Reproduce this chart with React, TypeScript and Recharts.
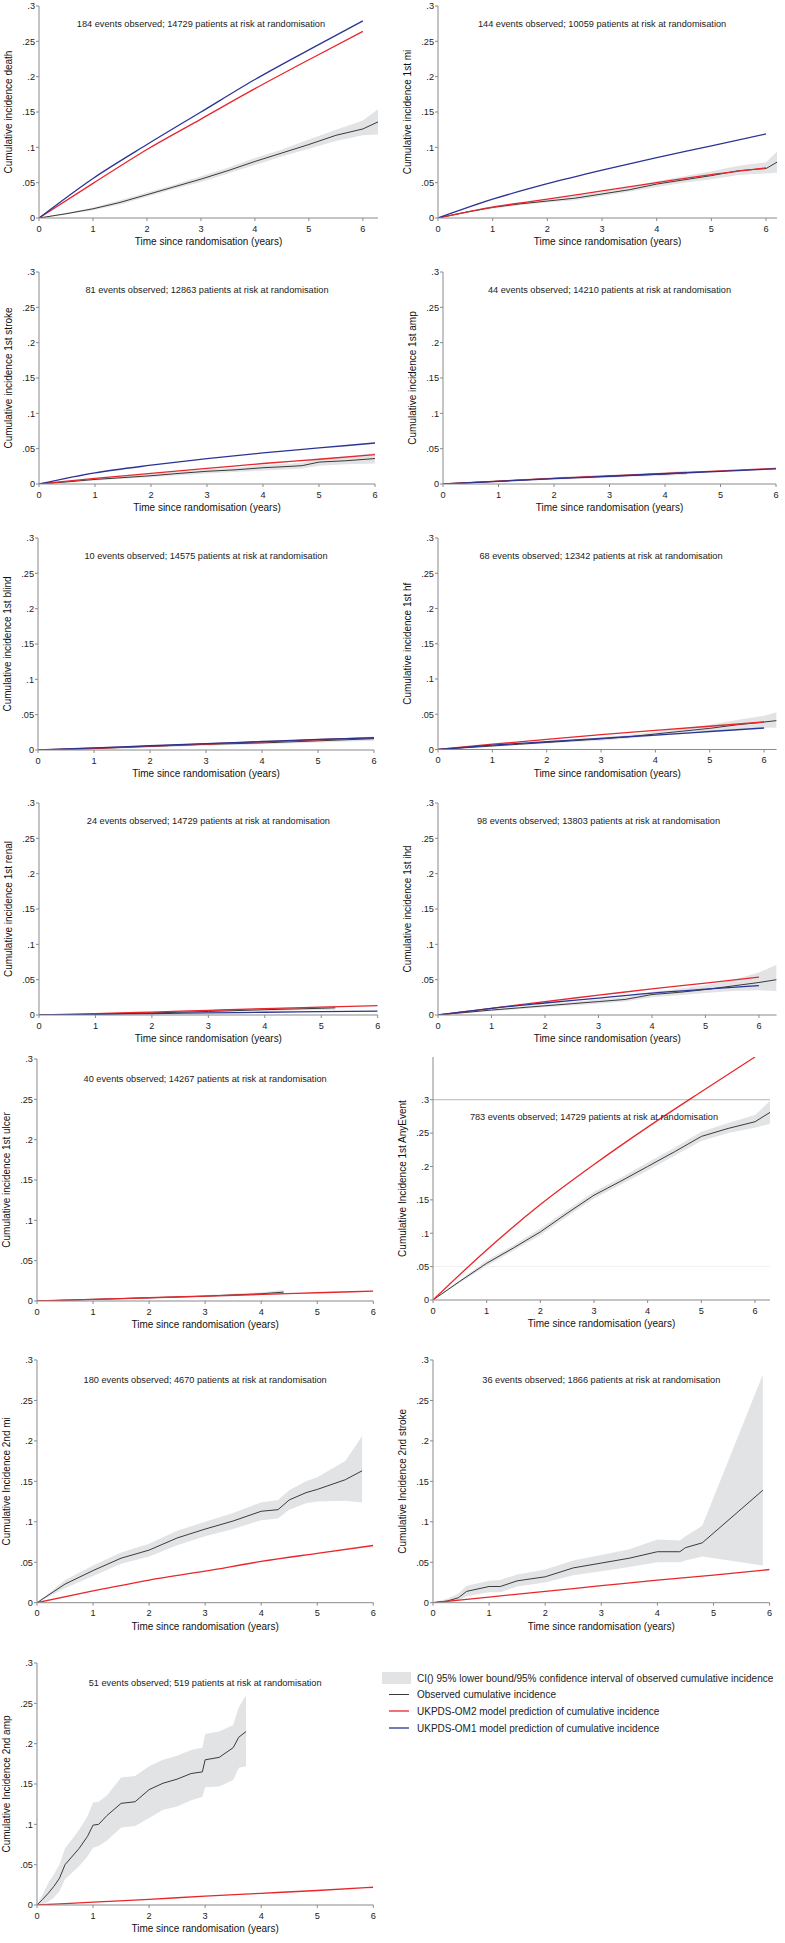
import React from "react";
import { ComposedChart, Line, Area, XAxis, YAxis, ReferenceDot, ReferenceLine } from "recharts";

// shared grids and ticks
const PRED_T = [0, 1, 2, 3, 4, 5, 6];
const X_TICKS = [0, 1, 2, 3, 4, 5, 6];
const Y_TICKS = [0, 0.05, 0.1, 0.15, 0.2, 0.25, 0.3];

// 1st death
const DEATH_T = [0, 0.5, 1, 1.5, 2, 2.5, 3, 3.5, 4, 4.5, 5, 5.5, 6, 6.28];
const DEATH_OBS = [0, 0.006, 0.013, 0.022, 0.033, 0.044, 0.055, 0.067, 0.08, 0.092, 0.104, 0.117, 0.126, 0.136];
const DEATH_LO = [0, 0.005, 0.011, 0.019, 0.03, 0.041, 0.051, 0.063, 0.075, 0.087, 0.098, 0.109, 0.117, 0.118];
const DEATH_HI = [0, 0.007, 0.015, 0.025, 0.036, 0.047, 0.059, 0.071, 0.085, 0.097, 0.111, 0.125, 0.138, 0.154];
const DEATH_OM2 = [0, 0.049, 0.097, 0.14, 0.183, 0.224, 0.264];
const DEATH_OM1 = [0, 0.056, 0.104, 0.15, 0.196, 0.238, 0.279];

// 1st mi
const MI1_T = [0, 0.5, 1, 1.5, 2, 2.5, 3, 3.5, 4, 4.5, 5, 5.5, 6, 6.2];
const MI1_OBS = [0, 0.008, 0.015, 0.02, 0.024, 0.028, 0.034, 0.04, 0.048, 0.054, 0.06, 0.067, 0.07, 0.079];
const MI1_LO = [0, 0.007, 0.013, 0.018, 0.022, 0.025, 0.031, 0.037, 0.044, 0.05, 0.055, 0.061, 0.063, 0.064];
const MI1_HI = [0, 0.009, 0.017, 0.022, 0.026, 0.031, 0.037, 0.044, 0.052, 0.059, 0.066, 0.074, 0.079, 0.094];
const MI1_OM2 = [0, 0.0155, 0.0266, 0.0383, 0.05, 0.0615, 0.071];
const MI1_OM1 = [0, 0.0266, 0.0486, 0.0678, 0.0855, 0.102, 0.119];

// 1st stroke
const STROKE1_T = [0, 0.5, 1, 1.5, 2, 2.5, 3, 3.5, 4, 4.5, 4.7, 5, 5.5, 6];
const STROKE1_OBS = [0, 0.003, 0.0065, 0.009, 0.0117, 0.015, 0.018, 0.02, 0.023, 0.025, 0.026, 0.031, 0.033, 0.036];
const STROKE1_LO = [0, 0.002, 0.005, 0.0075, 0.0095, 0.0125, 0.015, 0.017, 0.019, 0.021, 0.022, 0.026, 0.028, 0.029];
const STROKE1_HI = [0, 0.004, 0.008, 0.011, 0.014, 0.0175, 0.021, 0.023, 0.027, 0.029, 0.03, 0.036, 0.039, 0.044];
const STROKE1_OM2 = [0, 0.008, 0.015, 0.022, 0.029, 0.035, 0.0415];
const STROKE1_OM1 = [0, 0.0157, 0.0266, 0.036, 0.044, 0.051, 0.058];

// 1st amp
const AMP1_T = [0, 0.5, 1, 1.5, 2, 2.5, 3, 3.5, 4, 4.4];
const AMP1_OBS = [0, 0.002, 0.004, 0.006, 0.008, 0.0095, 0.011, 0.0125, 0.014, 0.016];
const AMP1_LO = [0, 0.001, 0.003, 0.0045, 0.006, 0.0075, 0.009, 0.0105, 0.0115, 0.013];
const AMP1_HI = [0, 0.003, 0.005, 0.0075, 0.0095, 0.0115, 0.013, 0.0145, 0.0165, 0.019];
const AMP1_OM2 = [0, 0.004, 0.008, 0.0115, 0.015, 0.0185, 0.022];
const AMP1_OM1 = [0, 0.0038, 0.0075, 0.011, 0.0145, 0.018, 0.0215];

// 1st blind
const BLIND_T = [0, 1, 2, 3, 4, 5, 6];
const BLIND_OBS = [0, 0.002, 0.005, 0.008, 0.01, 0.013, 0.016];
const BLIND_LO = [0, 0.001, 0.0035, 0.006, 0.008, 0.0105, 0.013];
const BLIND_HI = [0, 0.003, 0.0065, 0.01, 0.012, 0.0155, 0.019];
const BLIND_OM2 = [0, 0.0025, 0.0055, 0.0085, 0.0115, 0.0145, 0.0175];
const BLIND_OM1 = [0, 0.003, 0.006, 0.009, 0.012, 0.015, 0.017];

// 1st hf
const HF_T = [0, 0.5, 1, 1.5, 2, 2.5, 3, 3.5, 4, 4.5, 5, 5.5, 6, 6.23];
const HF_OBS = [0, 0.0025, 0.005, 0.0075, 0.01, 0.0125, 0.015, 0.018, 0.022, 0.026, 0.03, 0.035, 0.039, 0.041];
const HF_LO = [0, 0.002, 0.004, 0.0065, 0.0085, 0.0105, 0.0125, 0.0155, 0.019, 0.022, 0.025, 0.029, 0.031, 0.031];
const HF_HI = [0, 0.003, 0.006, 0.0085, 0.0115, 0.0145, 0.0175, 0.0205, 0.025, 0.03, 0.035, 0.042, 0.048, 0.053];
const HF_OM2 = [0, 0.0075, 0.0145, 0.021, 0.027, 0.033, 0.039];
const HF_OM1 = [0, 0.0062, 0.011, 0.0158, 0.0205, 0.0255, 0.0305];

// 1st renal
const RENAL_T = [0, 0.2, 1, 2, 3, 4, 5, 5.25];
const RENAL_OBS = [0, 0, 0.001, 0.003, 0.005, 0.0075, 0.0095, 0.0102];
const RENAL_LO = [0, 0, 0.0005, 0.002, 0.0035, 0.0055, 0.007, 0.0075];
const RENAL_HI = [0, 0, 0.002, 0.0045, 0.0065, 0.0095, 0.012, 0.013];
const RENAL_OM2 = [0, 0.0018, 0.0042, 0.0066, 0.009, 0.011, 0.0133];
const RENAL_OM1 = [0, 0.001, 0.002, 0.003, 0.0039, 0.0048, 0.0056];

// 1st ihd
const IHD_T = [0, 0.5, 1, 1.5, 2, 2.5, 3, 3.5, 4, 4.5, 5, 5.5, 6, 6.33];
const IHD_OBS = [0, 0.0035, 0.007, 0.01, 0.013, 0.016, 0.019, 0.022, 0.029, 0.032, 0.036, 0.041, 0.046, 0.05];
const IHD_LO = [0, 0.0025, 0.0055, 0.008, 0.011, 0.0135, 0.016, 0.019, 0.025, 0.028, 0.031, 0.034, 0.035, 0.034];
const IHD_HI = [0, 0.0045, 0.0085, 0.012, 0.015, 0.0185, 0.022, 0.025, 0.033, 0.037, 0.042, 0.049, 0.06, 0.071];
const IHD_OM2 = [0, 0.0095, 0.019, 0.028, 0.037, 0.045, 0.0535];
const IHD_OM1 = [0, 0.0095, 0.017, 0.024, 0.031, 0.0365, 0.0415];

// 1st ulcer
const ULCER_T = [0, 1, 2, 3, 4, 4.4];
const ULCER_OBS = [0, 0.002, 0.004, 0.006, 0.009, 0.011];
const ULCER_LO = [0, 0.001, 0.003, 0.0045, 0.007, 0.0085];
const ULCER_HI = [0, 0.003, 0.005, 0.0075, 0.011, 0.0135];
const ULCER_OM2 = [0, 0.002, 0.004, 0.006, 0.0082, 0.0102, 0.0123];

// 1st any event
const ANY_T = [0, 0.5, 1, 1.5, 2, 2.5, 3, 3.5, 4, 4.5, 5, 5.5, 6, 6.28];
const ANY_OBS = [0, 0.028, 0.055, 0.078, 0.102, 0.13, 0.157, 0.178, 0.2, 0.222, 0.245, 0.257, 0.267, 0.281];
const ANY_LO = [0, 0.026, 0.051, 0.074, 0.097, 0.125, 0.152, 0.173, 0.194, 0.216, 0.238, 0.25, 0.258, 0.264];
const ANY_HI = [0, 0.03, 0.059, 0.082, 0.107, 0.135, 0.162, 0.183, 0.206, 0.228, 0.252, 0.265, 0.277, 0.298];
const ANY_OM2 = [0, 0.075, 0.143, 0.203, 0.259, 0.312, 0.364];

// 2nd mi
const MI2_T = [0, 0.5, 1, 1.5, 2, 2.5, 3, 3.5, 4, 4.3, 4.5, 4.8, 5, 5.5, 5.8];
const MI2_OBS = [0, 0.023, 0.0397, 0.055, 0.065, 0.08, 0.091, 0.101, 0.113, 0.115, 0.127, 0.136, 0.14, 0.152, 0.163];
const MI2_LO = [0, 0.018, 0.033, 0.048, 0.057, 0.071, 0.082, 0.091, 0.102, 0.104, 0.115, 0.123, 0.125, 0.126, 0.124];
const MI2_HI = [0, 0.028, 0.046, 0.062, 0.073, 0.089, 0.1, 0.111, 0.124, 0.127, 0.139, 0.15, 0.155, 0.175, 0.206];
const MI2_OM2 = [0, 0.0145, 0.028, 0.039, 0.051, 0.061, 0.0707];

// 2nd stroke
const STROKE2_T = [0, 0.25, 0.45, 0.6, 1, 1.2, 1.5, 2, 2.5, 3, 3.5, 4, 4.4, 4.5, 4.8, 5.88];
const STROKE2_OBS = [0, 0.002, 0.006, 0.014, 0.02, 0.02, 0.027, 0.032, 0.043, 0.049, 0.055, 0.063, 0.063, 0.068, 0.074, 0.139];
const STROKE2_LO = [0, 0, 0.002, 0.008, 0.013, 0.013, 0.02, 0.025, 0.034, 0.039, 0.044, 0.05, 0.05, 0.052, 0.057, 0.046];
const STROKE2_HI = [0, 0.005, 0.011, 0.021, 0.027, 0.028, 0.035, 0.041, 0.052, 0.059, 0.066, 0.078, 0.077, 0.082, 0.095, 0.282];
const STROKE2_OM2 = [0, 0.007, 0.014, 0.021, 0.028, 0.034, 0.041];

// 2nd amp
const AMP2_T = [0, 0.1, 0.2, 0.3, 0.4, 0.5, 0.75, 0.9, 1, 1.1, 1.25, 1.5, 1.75, 2, 2.25, 2.5, 2.75, 2.95, 3, 3.25, 3.5, 3.6, 3.73];
const AMP2_OBS = [0, 0.007, 0.0145, 0.023, 0.033, 0.05, 0.07, 0.085, 0.099, 0.1, 0.111, 0.126, 0.128, 0.143, 0.151, 0.156, 0.163, 0.165, 0.18, 0.183, 0.195, 0.208, 0.215];
const AMP2_LO = [0, 0.001, 0.004, 0.009, 0.017, 0.032, 0.048, 0.06, 0.071, 0.073, 0.08, 0.096, 0.098, 0.108, 0.118, 0.122, 0.13, 0.134, 0.146, 0.147, 0.155, 0.17, 0.172];
const AMP2_HI = [0, 0.013, 0.027, 0.038, 0.05, 0.07, 0.093, 0.11, 0.127, 0.128, 0.136, 0.158, 0.16, 0.172, 0.18, 0.185, 0.192, 0.195, 0.212, 0.215, 0.223, 0.245, 0.26];
const AMP2_OM2 = [0, 0.0035, 0.007, 0.011, 0.0145, 0.018, 0.022];

const LEGEND_LABELS = [
  "CI() 95% lower bound/95% confidence interval of observed cumulative incidence",
  "Observed cumulative incidence",
  "UKPDS-OM2 model prediction of cumulative incidence",
  "UKPDS-OM1 model prediction of cumulative incidence",
];

const FONT = '"Liberation Sans", Arial, Helvetica, sans-serif';
const RED = "#e8262b";
const BLUE = "#2b3494";
const OBS_C = "#3a3a3a";
const BAND = "#e2e3e5";
const AXIS = "#8a8a8a";

const YW = 45;
const MT = 12;
const MR = 10;
const XH = 40;

type PanelDef = {
  left: number;
  top: number;
  w: number;
  h: number;
  xMax: number;
  yMax: number;
  yLabel: string;
  title: string;
  t: number[];
  obs: number[];
  lo: number[];
  hi: number[];
  om2: number[];
  om1?: number[];
  refLines?: boolean;
};

const pts = (t: number[], v: number[]) => t.map((x, i) => ({ t: x, v: v[i] }));
const band = (t: number[], lo: number[], hi: number[]) => t.map((x, i) => ({ t: x, band: [lo[i], hi[i]] }));
const fmtY = (v: number) => (v === 0 ? "0" : String(v).replace(/^0/, ""));

const PANELS: PanelDef[] = [
  { left: 39, top: 6, w: 339, h: 212, xMax: 6.28, yMax: 0.3, yLabel: "Cumulative incidence death", title: "184 events observed; 14729 patients at risk at randomisation", t: DEATH_T, obs: DEATH_OBS, lo: DEATH_LO, hi: DEATH_HI, om2: DEATH_OM2, om1: DEATH_OM1 },
  { left: 437.7, top: 6, w: 339, h: 212, xMax: 6.2, yMax: 0.3, yLabel: "Cumulative incidence 1st mi", title: "144 events observed; 10059 patients at risk at randomisation", t: MI1_T, obs: MI1_OBS, lo: MI1_LO, hi: MI1_HI, om2: MI1_OM2, om1: MI1_OM1 },
  { left: 39, top: 272, w: 336, h: 212, xMax: 6, yMax: 0.3, yLabel: "Cumulative incidence 1st stroke", title: "81 events observed; 12863 patients at risk at randomisation", t: STROKE1_T, obs: STROKE1_OBS, lo: STROKE1_LO, hi: STROKE1_HI, om2: STROKE1_OM2, om1: STROKE1_OM1 },
  { left: 443, top: 272, w: 333, h: 212, xMax: 6, yMax: 0.3, yLabel: "Cumulative incidence 1st amp", title: "44 events observed; 14210 patients at risk at randomisation", t: AMP1_T, obs: AMP1_OBS, lo: AMP1_LO, hi: AMP1_HI, om2: AMP1_OM2, om1: AMP1_OM1 },
  { left: 38, top: 538, w: 336, h: 212, xMax: 6, yMax: 0.3, yLabel: "Cumulative incidence 1st blind", title: "10 events observed; 14575 patients at risk at randomisation", t: BLIND_T, obs: BLIND_OBS, lo: BLIND_LO, hi: BLIND_HI, om2: BLIND_OM2, om1: BLIND_OM1 },
  { left: 437.7, top: 538, w: 338.6, h: 211.5, xMax: 6.23, yMax: 0.3, yLabel: "Cumulative incidence 1st hf", title: "68 events observed; 12342 patients at risk at randomisation", t: HF_T, obs: HF_OBS, lo: HF_LO, hi: HF_HI, om2: HF_OM2, om1: HF_OM1 },
  { left: 39, top: 803, w: 338.7, h: 212, xMax: 6, yMax: 0.3, yLabel: "Cumulative incidence 1st renal", title: "24 events observed; 14729 patients at risk at randomisation", t: RENAL_T, obs: RENAL_OBS, lo: RENAL_LO, hi: RENAL_HI, om2: RENAL_OM2, om1: RENAL_OM1 },
  { left: 437.7, top: 803, w: 338.6, h: 212, xMax: 6.33, yMax: 0.3, yLabel: "Cumulative incidence 1st ihd", title: "98 events observed; 13803 patients at risk at randomisation", t: IHD_T, obs: IHD_OBS, lo: IHD_LO, hi: IHD_HI, om2: IHD_OM2, om1: IHD_OM1 },
  { left: 37, top: 1059, w: 336.3, h: 242, xMax: 6, yMax: 0.3, yLabel: "Cumulative incidence 1st ulcer", title: "40 events observed; 14267 patients at risk at randomisation", t: ULCER_T, obs: ULCER_OBS, lo: ULCER_LO, hi: ULCER_HI, om2: ULCER_OM2 },
  { left: 432.7, top: 1057, w: 337, h: 243, xMax: 6.28, yMax: 0.364, yLabel: "Cumulative Incidence 1st AnyEvent", title: "783 events observed; 14729 patients at risk at randomisation", t: ANY_T, obs: ANY_OBS, lo: ANY_LO, hi: ANY_HI, om2: ANY_OM2, refLines: true },
  { left: 37, top: 1360, w: 336.3, h: 242.7, xMax: 6, yMax: 0.3, yLabel: "Cumulative Incidence 2nd mi", title: "180 events observed; 4670 patients at risk at randomisation", t: MI2_T, obs: MI2_OBS, lo: MI2_LO, hi: MI2_HI, om2: MI2_OM2 },
  { left: 432.7, top: 1360, w: 336.6, h: 242.7, xMax: 6, yMax: 0.3, yLabel: "Cumulative Incidence 2nd stroke", title: "36 events observed; 1866 patients at risk at randomisation", t: STROKE2_T, obs: STROKE2_OBS, lo: STROKE2_LO, hi: STROKE2_HI, om2: STROKE2_OM2 },
  { left: 37, top: 1663, w: 336.3, h: 242, xMax: 6, yMax: 0.3, yLabel: "Cumulative Incidence 2nd amp", title: "51 events observed; 519 patients at risk at randomisation", t: AMP2_T, obs: AMP2_OBS, lo: AMP2_LO, hi: AMP2_HI, om2: AMP2_OM2 },
];

const Panel = ({ p }: { p: PanelDef }) => {
  const width = YW + p.w + MR;
  const height = MT + p.h + XH;
  return (
    <div style={{ position: "absolute", left: p.left - YW, top: p.top - MT, width, height }}>
      <ComposedChart width={width} height={height} margin={{ top: MT, right: MR, bottom: 0, left: 0 }}>
        <XAxis
          type="number"
          dataKey="t"
          domain={[0, p.xMax]}
          ticks={X_TICKS}
          interval={0}
          allowDataOverflow
          height={XH}
          tickSize={3}
          tickMargin={4}
          stroke={AXIS}
          tick={{ fontSize: 9.2, fill: "#222", fontFamily: FONT }}
          label={{ value: "Time since randomisation (years)", position: "insideTop", offset: 20, fontSize: 10, fill: "#111", fontFamily: FONT }}
        />
        <YAxis
          type="number"
          domain={[0, p.yMax]}
          ticks={Y_TICKS}
          interval={0}
          allowDataOverflow
          width={YW}
          tickSize={3}
          tickMargin={1}
          stroke={AXIS}
          tickFormatter={fmtY}
          tick={{ fontSize: 9.2, fill: "#222", fontFamily: FONT }}
          label={{ value: p.yLabel, angle: -90, position: "insideLeft", offset: YW - 31, fontSize: 10, fill: "#111", fontFamily: FONT, style: { textAnchor: "middle" } }}
        />
        {p.refLines && <ReferenceLine y={0.05} stroke="#f0f0f0" />}
        {p.refLines && <ReferenceLine y={0.3} stroke="#b5b5b5" />}
        <Area data={band(p.t, p.lo, p.hi)} dataKey="band" type="linear" stroke="none" fill={BAND} fillOpacity={1} isAnimationActive={false} />
        <Line data={pts(p.t, p.obs)} dataKey="v" type="linear" stroke={OBS_C} strokeWidth={1} dot={false} isAnimationActive={false} />
        <Line data={pts(PRED_T, p.om2)} dataKey="v" type="monotone" stroke={RED} strokeWidth={1.3} dot={false} isAnimationActive={false} />
        {p.om1 && (
          <Line data={pts(PRED_T, p.om1)} dataKey="v" type="monotone" stroke={BLUE} strokeWidth={1.3} dot={false} isAnimationActive={false} />
        )}
        <ReferenceDot
          x={3}
          y={0.275}
          r={0}
          fill="none"
          stroke="none"
          label={{ value: p.title, position: "center", fontSize: 9.2, fill: "#222", fontFamily: FONT }}
        />
      </ComposedChart>
    </div>
  );
};

const Legend = () => {
  const rows = [1678, 1694.5, 1711, 1728];
  return (
    <svg style={{ position: "absolute", left: 0, top: 0 }} width={785} height={1943} pointerEvents="none">
      <rect x={382} y={1672} width={29} height={12} fill={BAND} />
      <line x1={389} x2={409} y1={rows[1]} y2={rows[1]} stroke={OBS_C} strokeWidth={1} />
      <line x1={389} x2={409} y1={rows[2]} y2={rows[2]} stroke={RED} strokeWidth={1.3} />
      <line x1={389} x2={409} y1={rows[3]} y2={rows[3]} stroke={BLUE} strokeWidth={1.3} />
      {LEGEND_LABELS.map((s, i) => (
        <text key={s} x={417} y={rows[i]} dominantBaseline="central" fontSize={10} fill="#222" fontFamily={FONT}>
          {s}
        </text>
      ))}
    </svg>
  );
};

export default function App() {
  return (
    <div style={{ position: "absolute", left: 0, top: 0, width: 785, height: 1943, background: "#fff", fontFamily: FONT }}>
      {PANELS.map((p) => (
        <Panel key={p.yLabel} p={p} />
      ))}
      <Legend />
    </div>
  );
}
